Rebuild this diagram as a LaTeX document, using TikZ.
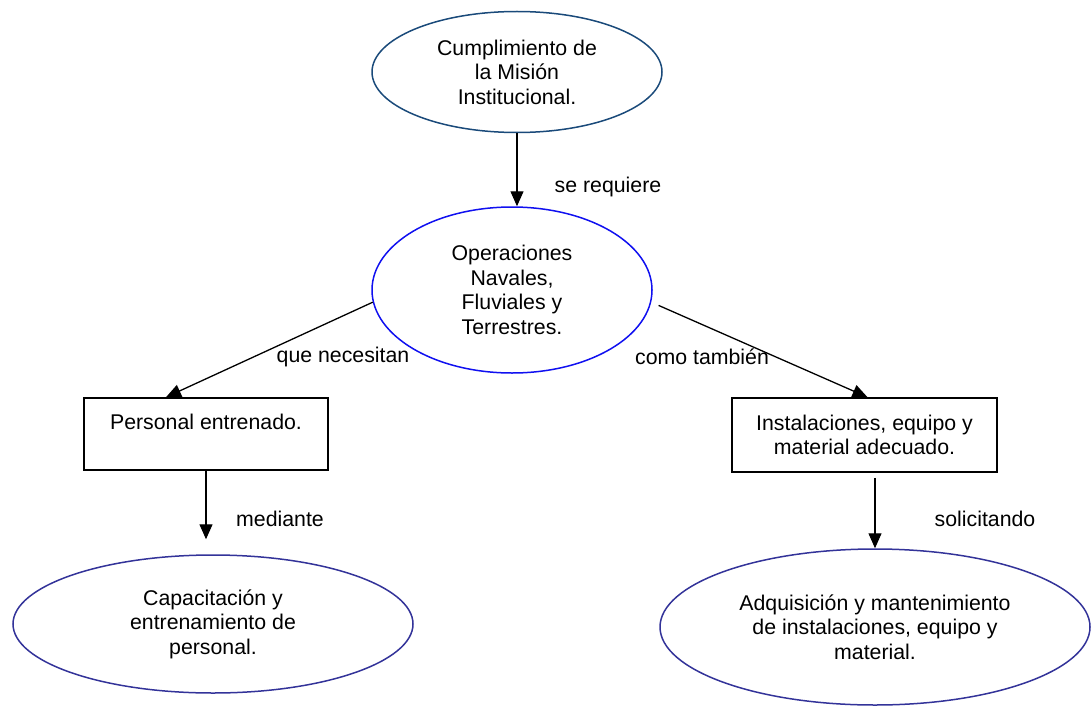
\documentclass[tikz,border=0pt]{standalone}
\usepackage{fontspec}
\setmainfont{Liberation Sans}
\usetikzlibrary{shapes.geometric,arrows.meta}
\definecolor{navytop}{HTML}{1A4A7A}
\definecolor{bluemid}{HTML}{1010F0}
\definecolor{bluebot}{HTML}{333399}
\begin{document}
\begin{tikzpicture}[x=1pt,y=-1pt,
  every node/.style={font=\fontsize{21.3}{24.5}\selectfont, inner sep=0pt, align=center},
  oval/.style={ellipse, draw, line width=1.5pt},
  box/.style={rectangle, draw, line width=1.6pt},
  conn/.style={line width=1.3pt, -{Triangle[length=15pt,width=13pt]}},
  lab/.style={}
]
\useasboundingbox (0,0) rectangle (1091,706);
\node[oval, navytop, text=black, minimum width=290pt, minimum height=121pt] (top) at (517,72) {Cumplimiento de\\la Misión\\Institucional.};
\node[oval, bluemid, text=black, minimum width=280pt, minimum height=166pt] (mid) at (512,290) {Operaciones\\Navales,\\Fluviales y\\Terrestres.};
\node[box, minimum width=244pt, minimum height=72pt] (lbox) at (206,434) {Personal entrenado.\\\phantom{X}};
\node[box, minimum width=265pt, minimum height=74pt] (rbox) at (864.5,435) {Instalaciones, equipo y\\material adecuado.};
\node[oval, bluebot, text=black, minimum width=400pt, minimum height=138pt] (cl) at (213,624) {Capacitación y\\entrenamiento de\\personal.};
\node[oval, bluebot, text=black, minimum width=430pt, minimum height=156pt] (ar) at (875,627) {Adquisición y mantenimiento\\de instalaciones, equipo y\\material.};

\draw[conn] (top.south) -- (top.south |- mid.north);
\draw[conn] (mid.185) -- ([xshift=-40pt]lbox.north);
\draw[conn, shorten <=8pt] (mid.355) -- ([xshift=3pt]rbox.north);
\draw[conn, shorten >=15pt] (lbox.south) -- (lbox.south |- cl.north);
\draw[conn, shorten <=5pt] (rbox.south -| ar.north) -- (ar.north);

\node[lab] (l1) at (608,187) {se requiere};
\node[lab] (l2) at (343,357) {que necesitan};
\node[lab] (l3) at (702,357) {como también};
\node[lab] (l4) at (280,519) {mediante};
\node[lab] (l5) at (985,519) {solicitando};
\end{tikzpicture}
\end{document}
